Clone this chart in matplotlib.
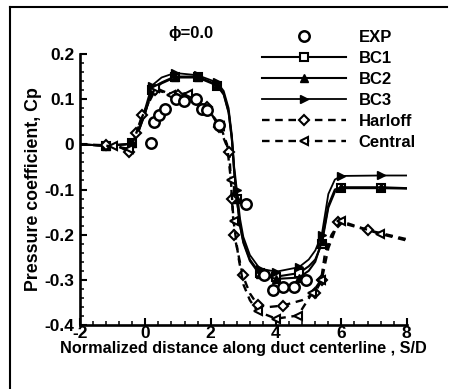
import matplotlib
matplotlib.use("Agg")
import matplotlib.pyplot as plt
from matplotlib.lines import Line2D
from matplotlib.ticker import MultipleLocator, FixedLocator

plt.rcParams['font.family'] = ['Liberation Sans', 'DejaVu Sans']
plt.rcParams['font.weight'] = 'bold'
plt.rcParams['axes.unicode_minus'] = False

# -----------------------------
# Data
# -----------------------------
s_exp = [0.17, 0.27, 0.42, 0.6, 0.93, 1.19, 1.55, 1.75, 1.9, 2.26, 3.08, 3.64, 3.9, 4.2, 4.56, 4.92]
cp_exp = [0.003, 0.049, 0.064, 0.079, 0.10, 0.097, 0.10, 0.079, 0.075, 0.042, -0.131, -0.29, -0.323, -0.316, -0.316, -0.301]

s_bc = [-2.0, -1.2, -0.6, -0.4, -0.2, 0.0, 0.2, 0.5, 0.9, 1.6, 2.2, 2.4, 2.55, 2.65, 2.72,
        2.8, 2.9, 3.0, 3.2, 3.5, 4.0, 4.7, 5.0, 5.2, 5.4, 5.5, 5.6, 5.8, 6.0, 7.2, 8.0]
cp_bc1 = [0.0, -0.003, 0.0, 0.003, 0.03, 0.07, 0.12, 0.135, 0.148, 0.148, 0.13, 0.11, 0.07, 0.01, -0.06,
          -0.12, -0.18, -0.215, -0.255, -0.285, -0.293, -0.285, -0.27, -0.255, -0.22, -0.18, -0.14, -0.105, -0.097, -0.097, -0.098]
cp_bc2 = [0.0, -0.003, 0.0, 0.003, 0.03, 0.07, 0.122, 0.137, 0.15, 0.15, 0.132, 0.112, 0.072, 0.012, -0.06,
          -0.12, -0.18, -0.218, -0.258, -0.288, -0.298, -0.295, -0.28, -0.26, -0.215, -0.175, -0.135, -0.1, -0.095, -0.095, -0.097]
cp_bc3 = [0.0, -0.003, 0.0, 0.003, 0.035, 0.08, 0.13, 0.148, 0.158, 0.153, 0.137, 0.118, 0.08, 0.02, -0.05,
          -0.1, -0.165, -0.205, -0.245, -0.275, -0.282, -0.272, -0.255, -0.235, -0.2, -0.155, -0.11, -0.078, -0.07, -0.069, -0.069]
mark_bc = [1, 3, 6, 8, 9, 10, 15, 19, 20, 21, 24, 28, 29]

s_harloff = [-2.0, -1.2, -0.8, -0.5, -0.29, -0.09, 0.3, 0.6, 1.0, 1.4, 1.9, 2.26, 2.57, 2.65, 2.72,
             2.98, 3.2, 3.44, 3.8, 4.2, 4.8, 5.18, 5.4, 5.6, 5.9, 6.81, 8.0]
cp_harloff = [0.0, -0.002, -0.005, -0.017, 0.024, 0.064, 0.12, 0.115, 0.11, 0.115, 0.083, 0.038, -0.017, -0.12, -0.2,
              -0.29, -0.33, -0.356, -0.36, -0.357, -0.345, -0.33, -0.3, -0.23, -0.172, -0.19, -0.21]
mark_harloff = [1, 3, 4, 5, 6, 8, 10, 11, 12, 13, 14, 15, 17, 19, 21, 22, 24, 25]

s_central = [-2.0, -1.0, -0.5, -0.3, -0.1, 0.3, 0.8, 1.3, 1.8, 2.3, 2.5, 2.62, 2.7, 2.85,
             3.0, 3.2, 3.44, 4.0, 4.67, 5.1, 5.38, 5.5, 5.7, 5.98, 7.17, 8.0]
cp_central = [0.0, -0.004, -0.01, 0.02, 0.06, 0.125, 0.11, 0.112, 0.09, 0.04, 0.0, -0.08, -0.17, -0.25,
              -0.31, -0.345, -0.37, -0.386, -0.379, -0.33, -0.3, -0.24, -0.2, -0.17, -0.198, -0.213]
mark_central = [1, 2, 5, 6, 7, 9, 11, 12, 16, 17, 18, 19, 20, 23, 24]

xticks = [-2, 0, 2, 4, 6, 8]
xticklabels = ["-2", "0", "2", "4", "6", "8"]
yticks = [-0.4, -0.3, -0.2, -0.1, 0.0, 0.1, 0.2]
yticklabels = ["-0.4", "-0.3", "-0.2", "-0.1", "0", "0.1", "0.2"]

# -----------------------------
# Figure
# -----------------------------
fig = plt.figure(figsize=(4.54, 3.89), dpi=100)
ax = fig.add_axes([0.176, 0.1645, 0.72, 0.6967])

dash = (0, (3.2, 2.4))
ax.plot(s_exp, cp_exp, ls='none', marker='o', ms=7.5, mfc='white', mec='black', mew=1.8,
        label='EXP', zorder=5)
ax.plot(s_bc, cp_bc1, color='black', lw=1.5, marker='s', ms=5.5, mfc='white', mec='black', mew=1.5,
        markevery=mark_bc, label='BC1')
ax.plot(s_bc, cp_bc2, color='black', lw=1.5, marker='^', ms=6, mfc='black', mec='black',
        markevery=mark_bc, label='BC2')
ax.plot(s_bc, cp_bc3, color='black', lw=1.3, marker='>', ms=6, mfc='black', mec='black',
        markevery=mark_bc, label='BC3')
ax.plot(s_harloff, cp_harloff, color='black', lw=1.7, ls=dash, marker='D', ms=5.5,
        mfc='white', mec='black', mew=1.5, markevery=mark_harloff, label='Harloff')
ax.plot(s_central, cp_central, color='black', lw=1.7, ls=dash, marker='<', ms=6,
        mfc='white', mec='black', mew=1.5, markevery=mark_central, label='Central')

ax.set_xlim(-2, 8)
ax.set_ylim(-0.4, 0.2)
ax.xaxis.set_major_locator(FixedLocator(xticks))
ax.set_xticklabels(xticklabels)
ax.yaxis.set_major_locator(FixedLocator(yticks))
ax.set_yticklabels(yticklabels)
ax.xaxis.set_minor_locator(MultipleLocator(0.4))
ax.yaxis.set_minor_locator(MultipleLocator(0.02))

for side in ['top', 'right']:
    ax.spines[side].set_visible(False)
for side in ['left', 'bottom']:
    ax.spines[side].set_linewidth(1.9)

ax.tick_params(which='major', direction='in', length=5, width=1.5, labelsize=12.5)
ax.tick_params(axis='x', which='major', pad=1)
ax.tick_params(axis='y', which='major', pad=4)
ax.tick_params(which='minor', direction='in', length=3, width=1.1)
for lab in ax.get_xticklabels() + ax.get_yticklabels():
    lab.set_fontweight('bold')

ax.set_xlabel('Normalized distance along duct centerline , S/D', fontsize=11.7,
              fontweight='bold', labelpad=0)
ax.set_ylabel('Pressure coefficient, Cp', fontsize=12.8, fontweight='bold', labelpad=2)

fig.text(0.421, 0.915, '\u03d5=0.0', fontsize=12, fontweight='bold', ha='center', va='center')

leg = ax.legend(loc='upper left', bbox_to_anchor=(0.558, 1.09), frameon=False,
                handlelength=5.0, handletextpad=0.78, labelspacing=0.36, borderpad=0,
                prop={'weight': 'bold', 'size': 12}, borderaxespad=0)

# scanned page frame
fig.add_artist(Line2D([0.022, 0.022], [0.0, 0.982], color='black', lw=1.5))
fig.add_artist(Line2D([0.022, 0.985], [0.982, 0.982], color='black', lw=1.5))

fig.savefig('out.png', dpi=100)
